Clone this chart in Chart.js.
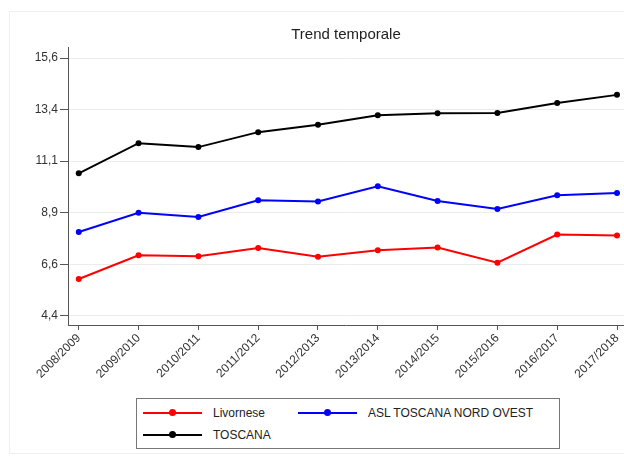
<!DOCTYPE html>
<html>
<head>
<meta charset="utf-8">
<script src="https://cdn.jsdelivr.net/npm/chart.js@4"></script>
<style>
  body { margin: 0; background: #fff; }
  #wrap { position: relative; width: 624px; height: 464px; overflow: hidden; font-family: "Liberation Sans", Arial, sans-serif; }
  #frame { position: absolute; left: 9px; top: 11px; width: 640px; height: 441px; border: 1px solid #efefef; }
  #chart { position: absolute; left: 0; top: 0; }
  #legend { position: absolute; left: 136px; top: 398px; width: 422px; height: 49px; border: 1px solid #777; background: #fff; }
  .item { position: absolute; height: 14px; font-size: 12px; color: #222; line-height: 14px; }
  .item .line { position: absolute; left: 0; top: 6px; width: 59px; height: 2px; }
  .item .dot { position: absolute; left: 26px; top: 3px; width: 7px; height: 7px; border-radius: 50%; }
  .item span { position: absolute; left: 70px; top: 0; white-space: nowrap; }
</style>
</head>
<body>
<div id="wrap">
  <div id="frame"></div>
  <!-- canvas a bit wider than the window so the plot runs to the right edge -->
  <canvas id="chart" width="628" height="464"></canvas>
  <div id="legend"></div>
</div>
<script>
const labels = ['2008/2009', '2009/2010', '2010/2011', '2011/2012', '2012/2013',
                '2013/2014', '2014/2015', '2015/2016', '2016/2017', '2017/2018'];
const livornese = [6.00, 7.03, 6.99, 7.35, 6.97, 7.25, 7.37, 6.71, 7.93, 7.89];
const aslNordOvest = [8.04, 8.88, 8.69, 9.42, 9.37, 10.03, 9.39, 9.04, 9.64, 9.74];
const toscana = [10.59, 11.90, 11.73, 12.38, 12.70, 13.11, 13.20, 13.21, 13.65, 14.00];
const yTicks = [4.4, 6.64, 8.88, 11.12, 13.36, 15.6];
const seriesNames = ['Livornese', 'ASL TOSCANA NORD OVEST', 'TOSCANA'];
const seriesColors = ['#ff0000', '#0000ff', '#000000'];

const toPoints = arr => arr.map((v, i) => ({ x: i, y: v }));
const seriesData = [livornese, aslNordOvest, toscana];

const datasets = seriesData.map((d, i) => ({
  label: seriesNames[i],
  data: toPoints(d),
  borderColor: seriesColors[i],
  backgroundColor: seriesColors[i],
  borderWidth: 2,
  pointRadius: 3,
  pointBorderWidth: 0,
  pointBackgroundColor: seriesColors[i],
  tension: 0
}));

// title centred over the plot area, like the original
const titlePlugin = {
  id: 'plotTitle',
  afterDraw(chart) {
    const { ctx, chartArea } = chart;
    ctx.save();
    ctx.font = '15px "Liberation Sans", Arial, sans-serif';
    ctx.fillStyle = '#222';
    ctx.textAlign = 'center';
    ctx.textBaseline = 'middle';
    ctx.fillText('Trend temporale', (chartArea.left + chartArea.right) / 2, 35);
    ctx.restore();
  }
};

new Chart(document.getElementById('chart').getContext('2d'), {
  type: 'line',
  data: { datasets },
  plugins: [titlePlugin],
  options: {
    responsive: false,
    animation: false,
    layout: { padding: { top: 47, left: 0, right: 0, bottom: 0 } },
    plugins: { legend: { display: false }, title: { display: false }, tooltip: { enabled: false } },
    scales: {
      x: {
        type: 'linear',
        min: -0.18,
        max: 9.117,
        afterFit: s => { s.height = 139; s.paddingLeft = 0; s.paddingRight = 0; },
        afterBuildTicks: s => { s.ticks = labels.map((l, i) => ({ value: i })); },
        border: { color: '#555', width: 1 },
        grid: { drawOnChartArea: false, drawTicks: true, tickLength: 5, tickColor: '#555' },
        ticks: {
          autoSkip: false,
          minRotation: 45,
          maxRotation: 45,
          padding: 1,
          color: '#333',
          font: { family: '"Liberation Sans", Arial, sans-serif', size: 12 },
          callback: v => labels[v]
        }
      },
      y: {
        min: 4.0,
        max: 16.08,
        afterFit: s => { s.width = 68; },
        afterBuildTicks: s => { s.ticks = yTicks.map(v => ({ value: v })); },
        border: { color: '#555', width: 1 },
        grid: { color: '#ececec', tickColor: '#555', tickLength: 8 },
        ticks: {
          padding: 2,
          color: '#333',
          font: { family: '"Liberation Sans", Arial, sans-serif', size: 12 },
          callback: v => v.toFixed(1).replace('.', ',')
        }
      }
    }
  }
});

// legend box below the plot
const legendPos = [[0, 14], [155, 14], [0, 36]];
const legend = document.getElementById('legend');
seriesNames.forEach((name, i) => {
  const it = document.createElement('div');
  it.className = 'item';
  it.style.left = (6 + legendPos[i][0]) + 'px';
  it.style.top = (legendPos[i][1] - 7) + 'px';
  it.innerHTML = '<div class="line" style="background:' + seriesColors[i] + '"></div>' +
                 '<div class="dot" style="background:' + seriesColors[i] + '"></div>' +
                 '<span>' + name + '</span>';
  legend.appendChild(it);
});
</script>
</body>
</html>
